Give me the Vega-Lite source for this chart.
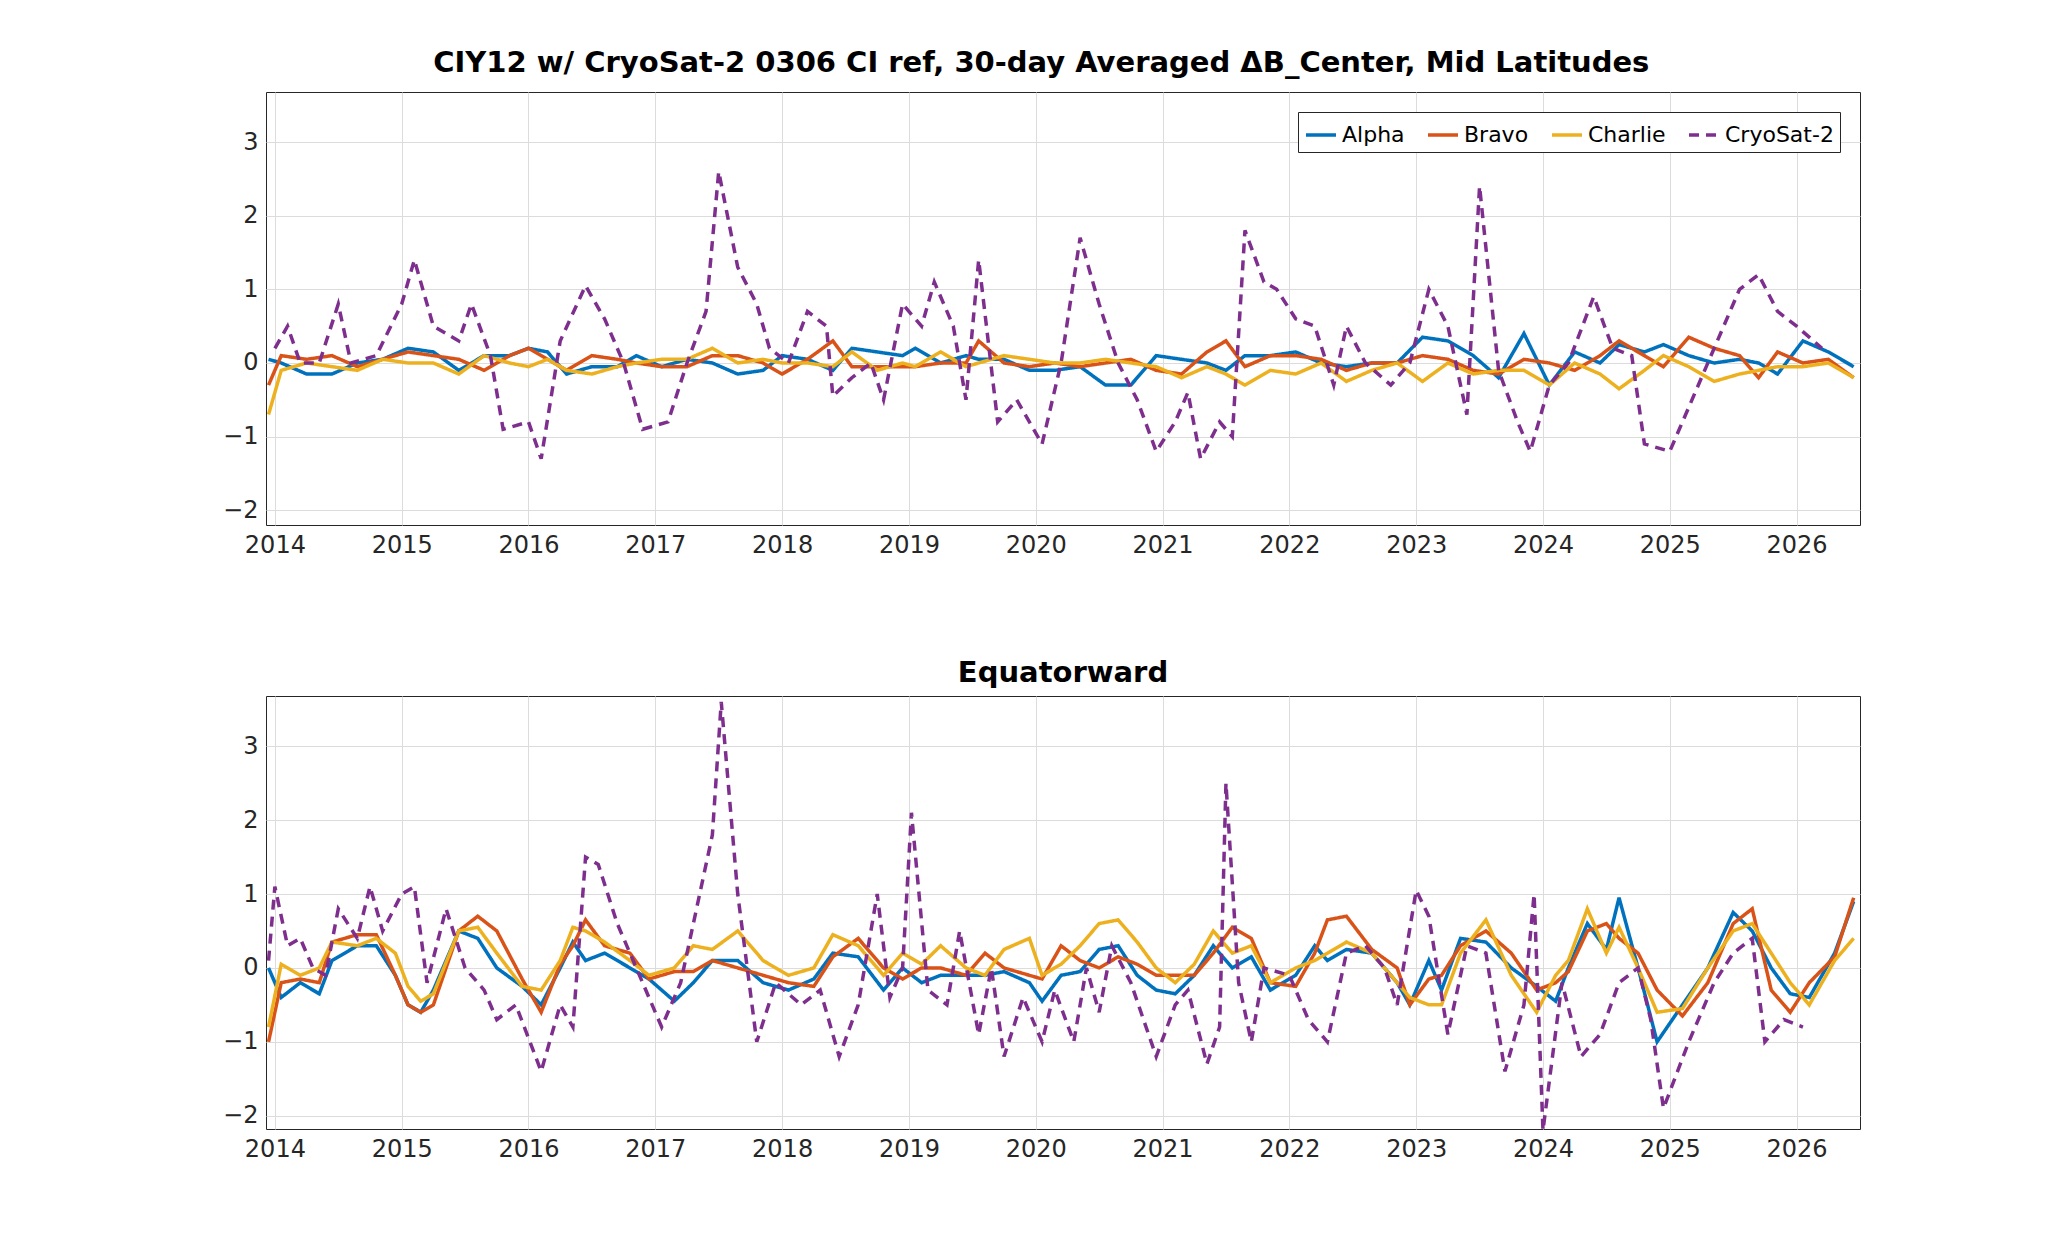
{
  "$schema": "https://vega.github.io/schema/vega-lite/v6.json",
  "background": "white",
  "padding": {"left": 222, "top": 48, "right": 10, "bottom": 10},
  "title": {"text": "CIY12 w/ CryoSat-2 0306 CI ref, 30-day Averaged ΔB_Center, Mid Latitudes", "fontSize": 29, "font": "DejaVu Sans", "fontWeight": "bold", "anchor": "middle", "offset": 14},
  "config": {
    "font": "DejaVu Sans",
    "view": {"stroke": "#262626", "strokeWidth": 1},
    "axis": {"labelFontSize": 24, "labelColor": "#262626", "gridColor": "#dcdcdc", "gridOpacity": 1, "domain": false, "tickSize": 0, "labelPadding": 8, "title": null},
    "title": {"fontSize": 29, "font": "DejaVu Sans", "fontWeight": "bold", "color": "black"}
  },
  "data": {"values": [
    {"p":"M","t":2013.95,"A":0.05,"B":-0.3,"C":-0.7},
    {"p":"M","t":2014.05,"A":0.0,"B":0.1,"C":-0.1},
    {"p":"M","t":2014.25,"A":-0.15,"B":0.05,"C":0.0},
    {"p":"M","t":2014.45,"A":-0.15,"B":0.1,"C":-0.05},
    {"p":"M","t":2014.65,"A":0.0,"B":-0.05,"C":-0.1},
    {"p":"M","t":2014.85,"A":0.05,"B":0.05,"C":0.05},
    {"p":"M","t":2015.05,"A":0.2,"B":0.15,"C":0.0},
    {"p":"M","t":2015.25,"A":0.15,"B":0.1,"C":0.0},
    {"p":"M","t":2015.45,"A":-0.1,"B":0.05,"C":-0.15},
    {"p":"M","t":2015.65,"A":0.1,"B":-0.1,"C":0.1},
    {"p":"M","t":2015.85,"A":0.1,"B":0.1,"C":0.0},
    {"p":"M","t":2016.0,"A":0.2,"B":0.2,"C":-0.05},
    {"p":"M","t":2016.15,"A":0.15,"B":0.05,"C":0.05},
    {"p":"M","t":2016.3,"A":-0.15,"B":-0.1,"C":-0.1},
    {"p":"M","t":2016.5,"A":-0.05,"B":0.1,"C":-0.15},
    {"p":"M","t":2016.7,"A":-0.05,"B":0.05,"C":-0.05},
    {"p":"M","t":2016.85,"A":0.1,"B":0.0,"C":0.0},
    {"p":"M","t":2017.05,"A":-0.05,"B":-0.05,"C":0.05},
    {"p":"M","t":2017.25,"A":0.05,"B":-0.05,"C":0.05},
    {"p":"M","t":2017.45,"A":0.0,"B":0.1,"C":0.2},
    {"p":"M","t":2017.65,"A":-0.15,"B":0.1,"C":0.0},
    {"p":"M","t":2017.85,"A":-0.1,"B":0.0,"C":0.05},
    {"p":"M","t":2018.0,"A":0.1,"B":-0.15,"C":0.0},
    {"p":"M","t":2018.2,"A":0.05,"B":0.05,"C":0.0},
    {"p":"M","t":2018.4,"A":-0.1,"B":0.3,"C":-0.05},
    {"p":"M","t":2018.55,"A":0.2,"B":-0.05,"C":0.15},
    {"p":"M","t":2018.75,"A":0.15,"B":-0.05,"C":-0.1},
    {"p":"M","t":2018.95,"A":0.1,"B":-0.05,"C":0.0},
    {"p":"M","t":2019.05,"A":0.2,"B":-0.05,"C":-0.05},
    {"p":"M","t":2019.25,"A":0.0,"B":0.0,"C":0.15},
    {"p":"M","t":2019.45,"A":0.1,"B":0.0,"C":-0.05},
    {"p":"M","t":2019.55,"A":0.05,"B":0.3,"C":0.0},
    {"p":"M","t":2019.75,"A":0.05,"B":0.0,"C":0.1},
    {"p":"M","t":2019.95,"A":-0.1,"B":-0.05,"C":0.05},
    {"p":"M","t":2020.15,"A":-0.1,"B":0.0,"C":0.0},
    {"p":"M","t":2020.35,"A":-0.05,"B":-0.05,"C":0.0},
    {"p":"M","t":2020.55,"A":-0.3,"B":0.0,"C":0.05},
    {"p":"M","t":2020.75,"A":-0.3,"B":0.05,"C":0.0},
    {"p":"M","t":2020.95,"A":0.1,"B":-0.1,"C":-0.05},
    {"p":"M","t":2021.15,"A":0.05,"B":-0.15,"C":-0.2},
    {"p":"M","t":2021.35,"A":0.0,"B":0.15,"C":-0.05},
    {"p":"M","t":2021.5,"A":-0.1,"B":0.3,"C":-0.15},
    {"p":"M","t":2021.65,"A":0.1,"B":-0.05,"C":-0.3},
    {"p":"M","t":2021.85,"A":0.1,"B":0.1,"C":-0.1},
    {"p":"M","t":2022.05,"A":0.15,"B":0.1,"C":-0.15},
    {"p":"M","t":2022.25,"A":0.0,"B":0.05,"C":0.0},
    {"p":"M","t":2022.45,"A":-0.05,"B":-0.1,"C":-0.25},
    {"p":"M","t":2022.65,"A":0.0,"B":0.0,"C":-0.1},
    {"p":"M","t":2022.85,"A":0.0,"B":0.0,"C":0.0},
    {"p":"M","t":2023.05,"A":0.35,"B":0.1,"C":-0.25},
    {"p":"M","t":2023.25,"A":0.3,"B":0.05,"C":0.0},
    {"p":"M","t":2023.45,"A":0.1,"B":-0.1,"C":-0.15},
    {"p":"M","t":2023.65,"A":-0.2,"B":-0.15,"C":-0.1},
    {"p":"M","t":2023.85,"A":0.4,"B":0.05,"C":-0.1},
    {"p":"M","t":2024.05,"A":-0.3,"B":0.0,"C":-0.3},
    {"p":"M","t":2024.25,"A":0.15,"B":-0.1,"C":0.0},
    {"p":"M","t":2024.45,"A":0.0,"B":0.1,"C":-0.15},
    {"p":"M","t":2024.6,"A":0.25,"B":0.3,"C":-0.35},
    {"p":"M","t":2024.8,"A":0.15,"B":0.1,"C":-0.1},
    {"p":"M","t":2024.95,"A":0.25,"B":-0.05,"C":0.1},
    {"p":"M","t":2025.15,"A":0.1,"B":0.35,"C":-0.05},
    {"p":"M","t":2025.35,"A":0.0,"B":0.2,"C":-0.25},
    {"p":"M","t":2025.55,"A":0.05,"B":0.1,"C":-0.15},
    {"p":"M","t":2025.7,"A":0.0,"B":-0.2,"C":-0.1},
    {"p":"M","t":2025.85,"A":-0.15,"B":0.15,"C":-0.05},
    {"p":"M","t":2026.05,"A":0.3,"B":0.0,"C":-0.05},
    {"p":"M","t":2026.25,"A":0.15,"B":0.05,"C":0.0},
    {"p":"M","t":2026.45,"A":-0.05,"B":-0.2,"C":-0.2},
    {"p":"M","t":2014.0,"D":0.2},{"p":"M","t":2014.1,"D":0.5},{"p":"M","t":2014.2,"D":0.0},{"p":"M","t":2014.35,"D":0.0},
    {"p":"M","t":2014.5,"D":0.8},{"p":"M","t":2014.6,"D":0.0},{"p":"M","t":2014.8,"D":0.1},{"p":"M","t":2015.0,"D":0.8},
    {"p":"M","t":2015.1,"D":1.4},{"p":"M","t":2015.25,"D":0.5},{"p":"M","t":2015.45,"D":0.3},{"p":"M","t":2015.55,"D":0.8},
    {"p":"M","t":2015.7,"D":0.1},{"p":"M","t":2015.8,"D":-0.9},{"p":"M","t":2016.0,"D":-0.8},{"p":"M","t":2016.1,"D":-1.3},
    {"p":"M","t":2016.25,"D":0.3},{"p":"M","t":2016.45,"D":1.05},{"p":"M","t":2016.6,"D":0.6},{"p":"M","t":2016.75,"D":0.0},
    {"p":"M","t":2016.9,"D":-0.9},{"p":"M","t":2017.1,"D":-0.8},{"p":"M","t":2017.25,"D":0.0},{"p":"M","t":2017.4,"D":0.7},
    {"p":"M","t":2017.5,"D":2.6},{"p":"M","t":2017.65,"D":1.3},{"p":"M","t":2017.8,"D":0.8},{"p":"M","t":2017.9,"D":0.2},
    {"p":"M","t":2018.05,"D":0.0},{"p":"M","t":2018.2,"D":0.7},{"p":"M","t":2018.35,"D":0.5},{"p":"M","t":2018.4,"D":-0.45},
    {"p":"M","t":2018.55,"D":-0.2},{"p":"M","t":2018.7,"D":0.0},{"p":"M","t":2018.8,"D":-0.5},{"p":"M","t":2018.95,"D":0.8},
    {"p":"M","t":2019.1,"D":0.5},{"p":"M","t":2019.2,"D":1.1},{"p":"M","t":2019.35,"D":0.5},{"p":"M","t":2019.45,"D":-0.5},
    {"p":"M","t":2019.55,"D":1.4},{"p":"M","t":2019.7,"D":-0.8},{"p":"M","t":2019.85,"D":-0.5},{"p":"M","t":2019.95,"D":-0.8},
    {"p":"M","t":2020.05,"D":-1.1},{"p":"M","t":2020.2,"D":0.0},{"p":"M","t":2020.35,"D":1.7},{"p":"M","t":2020.5,"D":0.8},
    {"p":"M","t":2020.65,"D":0.0},{"p":"M","t":2020.8,"D":-0.5},{"p":"M","t":2020.95,"D":-1.2},{"p":"M","t":2021.1,"D":-0.8},
    {"p":"M","t":2021.2,"D":-0.4},{"p":"M","t":2021.3,"D":-1.3},{"p":"M","t":2021.45,"D":-0.8},{"p":"M","t":2021.55,"D":-1.0},
    {"p":"M","t":2021.65,"D":1.8},{"p":"M","t":2021.8,"D":1.1},{"p":"M","t":2021.9,"D":1.0},{"p":"M","t":2022.05,"D":0.6},
    {"p":"M","t":2022.2,"D":0.5},{"p":"M","t":2022.35,"D":-0.3},{"p":"M","t":2022.45,"D":0.5},{"p":"M","t":2022.6,"D":0.0},
    {"p":"M","t":2022.8,"D":-0.3},{"p":"M","t":2022.95,"D":0.0},{"p":"M","t":2023.1,"D":1.0},{"p":"M","t":2023.25,"D":0.5},
    {"p":"M","t":2023.4,"D":-0.7},{"p":"M","t":2023.5,"D":2.4},{"p":"M","t":2023.65,"D":-0.1},{"p":"M","t":2023.8,"D":-0.8},
    {"p":"M","t":2023.9,"D":-1.2},{"p":"M","t":2024.05,"D":-0.3},{"p":"M","t":2024.2,"D":0.0},{"p":"M","t":2024.4,"D":0.9},
    {"p":"M","t":2024.55,"D":0.2},{"p":"M","t":2024.7,"D":0.1},{"p":"M","t":2024.8,"D":-1.1},{"p":"M","t":2025.0,"D":-1.2},
    {"p":"M","t":2025.15,"D":-0.6},{"p":"M","t":2025.35,"D":0.2},{"p":"M","t":2025.55,"D":1.0},{"p":"M","t":2025.7,"D":1.2},
    {"p":"M","t":2025.85,"D":0.7},{"p":"M","t":2026.0,"D":0.5},{"p":"M","t":2026.2,"D":0.2},
    {"p":"E","t":2013.95,"A":0.0,"B":-1.0,"C":-0.8},
    {"p":"E","t":2014.05,"A":-0.4,"B":-0.2,"C":0.05},
    {"p":"E","t":2014.2,"A":-0.2,"B":-0.15,"C":-0.1},
    {"p":"E","t":2014.35,"A":-0.35,"B":-0.2,"C":0.0},
    {"p":"E","t":2014.45,"A":0.1,"B":0.35,"C":0.35},
    {"p":"E","t":2014.65,"A":0.3,"B":0.45,"C":0.3},
    {"p":"E","t":2014.8,"A":0.3,"B":0.45,"C":0.4},
    {"p":"E","t":2014.95,"A":-0.1,"B":-0.1,"C":0.2},
    {"p":"E","t":2015.05,"A":-0.5,"B":-0.5,"C":-0.25},
    {"p":"E","t":2015.15,"A":-0.6,"B":-0.6,"C":-0.45},
    {"p":"E","t":2015.25,"A":-0.3,"B":-0.5,"C":-0.35},
    {"p":"E","t":2015.45,"A":0.5,"B":0.5,"C":0.5},
    {"p":"E","t":2015.6,"A":0.4,"B":0.7,"C":0.55},
    {"p":"E","t":2015.75,"A":0.0,"B":0.5,"C":0.2},
    {"p":"E","t":2015.95,"A":-0.25,"B":-0.15,"C":-0.25},
    {"p":"E","t":2016.1,"A":-0.5,"B":-0.6,"C":-0.3},
    {"p":"E","t":2016.25,"A":0.0,"B":0.05,"C":0.1},
    {"p":"E","t":2016.35,"A":0.35,"B":0.3,"C":0.55},
    {"p":"E","t":2016.45,"A":0.1,"B":0.65,"C":0.5},
    {"p":"E","t":2016.6,"A":0.2,"B":0.3,"C":0.35},
    {"p":"E","t":2016.8,"A":0.0,"B":0.2,"C":0.1},
    {"p":"E","t":2016.95,"A":-0.15,"B":-0.15,"C":-0.1},
    {"p":"E","t":2017.15,"A":-0.45,"B":-0.05,"C":0.0},
    {"p":"E","t":2017.3,"A":-0.2,"B":-0.05,"C":0.3},
    {"p":"E","t":2017.45,"A":0.1,"B":0.1,"C":0.25},
    {"p":"E","t":2017.65,"A":0.1,"B":0.0,"C":0.5},
    {"p":"E","t":2017.85,"A":-0.2,"B":-0.1,"C":0.1},
    {"p":"E","t":2018.05,"A":-0.3,"B":-0.2,"C":-0.1},
    {"p":"E","t":2018.25,"A":-0.15,"B":-0.25,"C":0.0},
    {"p":"E","t":2018.4,"A":0.2,"B":0.15,"C":0.45},
    {"p":"E","t":2018.6,"A":0.15,"B":0.4,"C":0.3},
    {"p":"E","t":2018.8,"A":-0.3,"B":0.0,"C":-0.1},
    {"p":"E","t":2018.95,"A":0.0,"B":-0.15,"C":0.2},
    {"p":"E","t":2019.1,"A":-0.2,"B":0.0,"C":0.05},
    {"p":"E","t":2019.25,"A":-0.1,"B":0.0,"C":0.3},
    {"p":"E","t":2019.45,"A":-0.1,"B":-0.1,"C":0.0},
    {"p":"E","t":2019.6,"A":-0.1,"B":0.2,"C":-0.1},
    {"p":"E","t":2019.75,"A":-0.05,"B":0.0,"C":0.25},
    {"p":"E","t":2019.95,"A":-0.2,"B":-0.1,"C":0.4},
    {"p":"E","t":2020.05,"A":-0.45,"B":-0.15,"C":-0.1},
    {"p":"E","t":2020.2,"A":-0.1,"B":0.3,"C":0.05},
    {"p":"E","t":2020.35,"A":-0.05,"B":0.1,"C":0.3},
    {"p":"E","t":2020.5,"A":0.25,"B":0.0,"C":0.6},
    {"p":"E","t":2020.65,"A":0.3,"B":0.15,"C":0.65},
    {"p":"E","t":2020.8,"A":-0.1,"B":0.05,"C":0.35},
    {"p":"E","t":2020.95,"A":-0.3,"B":-0.1,"C":0.0},
    {"p":"E","t":2021.1,"A":-0.35,"B":-0.1,"C":-0.2},
    {"p":"E","t":2021.25,"A":-0.1,"B":-0.1,"C":0.05},
    {"p":"E","t":2021.4,"A":0.3,"B":0.2,"C":0.5},
    {"p":"E","t":2021.55,"A":0.0,"B":0.55,"C":0.2},
    {"p":"E","t":2021.7,"A":0.15,"B":0.4,"C":0.3},
    {"p":"E","t":2021.85,"A":-0.3,"B":-0.2,"C":-0.2},
    {"p":"E","t":2022.05,"A":-0.1,"B":-0.25,"C":0.0},
    {"p":"E","t":2022.2,"A":0.3,"B":0.2,"C":0.1},
    {"p":"E","t":2022.3,"A":0.1,"B":0.65,"C":0.2},
    {"p":"E","t":2022.45,"A":0.25,"B":0.7,"C":0.35},
    {"p":"E","t":2022.65,"A":0.2,"B":0.25,"C":0.2},
    {"p":"E","t":2022.85,"A":-0.2,"B":0.0,"C":-0.2},
    {"p":"E","t":2022.95,"A":-0.5,"B":-0.5,"C":-0.4},
    {"p":"E","t":2023.1,"A":0.1,"B":-0.15,"C":-0.5},
    {"p":"E","t":2023.2,"A":-0.3,"B":-0.1,"C":-0.5},
    {"p":"E","t":2023.35,"A":0.4,"B":0.3,"C":0.2},
    {"p":"E","t":2023.55,"A":0.35,"B":0.5,"C":0.65},
    {"p":"E","t":2023.75,"A":0.0,"B":0.2,"C":-0.1},
    {"p":"E","t":2023.95,"A":-0.25,"B":-0.3,"C":-0.6},
    {"p":"E","t":2024.1,"A":-0.45,"B":-0.2,"C":-0.1},
    {"p":"E","t":2024.2,"A":0.0,"B":-0.05,"C":0.1},
    {"p":"E","t":2024.35,"A":0.6,"B":0.5,"C":0.8},
    {"p":"E","t":2024.5,"A":0.25,"B":0.6,"C":0.2},
    {"p":"E","t":2024.6,"A":0.95,"B":0.4,"C":0.55},
    {"p":"E","t":2024.75,"A":0.0,"B":0.2,"C":0.0},
    {"p":"E","t":2024.9,"A":-1.0,"B":-0.3,"C":-0.6},
    {"p":"E","t":2025.1,"A":-0.5,"B":-0.65,"C":-0.55},
    {"p":"E","t":2025.3,"A":0.0,"B":-0.2,"C":0.0},
    {"p":"E","t":2025.5,"A":0.75,"B":0.6,"C":0.5},
    {"p":"E","t":2025.65,"A":0.5,"B":0.8,"C":0.6},
    {"p":"E","t":2025.8,"A":0.0,"B":-0.3,"C":0.2},
    {"p":"E","t":2025.95,"A":-0.35,"B":-0.6,"C":-0.2},
    {"p":"E","t":2026.1,"A":-0.4,"B":-0.2,"C":-0.5},
    {"p":"E","t":2026.3,"A":0.2,"B":0.15,"C":0.1},
    {"p":"E","t":2026.45,"A":0.9,"B":0.95,"C":0.4},
    {"p":"E","t":2013.95,"D":0.1},{"p":"E","t":2014.0,"D":1.1},{"p":"E","t":2014.1,"D":0.3},{"p":"E","t":2014.2,"D":0.4},
    {"p":"E","t":2014.3,"D":0.0},{"p":"E","t":2014.4,"D":-0.1},{"p":"E","t":2014.5,"D":0.8},{"p":"E","t":2014.65,"D":0.4},
    {"p":"E","t":2014.75,"D":1.1},{"p":"E","t":2014.85,"D":0.5},{"p":"E","t":2015.0,"D":1.0},{"p":"E","t":2015.1,"D":1.1},
    {"p":"E","t":2015.2,"D":-0.2},{"p":"E","t":2015.35,"D":0.8},{"p":"E","t":2015.5,"D":0.0},{"p":"E","t":2015.65,"D":-0.3},
    {"p":"E","t":2015.75,"D":-0.7},{"p":"E","t":2015.9,"D":-0.5},{"p":"E","t":2016.1,"D":-1.4},{"p":"E","t":2016.25,"D":-0.5},
    {"p":"E","t":2016.35,"D":-0.8},{"p":"E","t":2016.45,"D":1.5},{"p":"E","t":2016.55,"D":1.4},{"p":"E","t":2016.7,"D":0.6},
    {"p":"E","t":2016.85,"D":0.0},{"p":"E","t":2017.05,"D":-0.8},{"p":"E","t":2017.2,"D":-0.2},{"p":"E","t":2017.35,"D":1.0},
    {"p":"E","t":2017.45,"D":1.8},{"p":"E","t":2017.52,"D":3.6},{"p":"E","t":2017.65,"D":1.0},{"p":"E","t":2017.8,"D":-1.0},
    {"p":"E","t":2017.95,"D":-0.2},{"p":"E","t":2018.15,"D":-0.5},{"p":"E","t":2018.3,"D":-0.3},{"p":"E","t":2018.45,"D":-1.2},
    {"p":"E","t":2018.6,"D":-0.5},{"p":"E","t":2018.75,"D":1.0},{"p":"E","t":2018.85,"D":-0.4},{"p":"E","t":2018.95,"D":0.0},
    {"p":"E","t":2019.02,"D":2.1},{"p":"E","t":2019.15,"D":-0.3},{"p":"E","t":2019.3,"D":-0.5},{"p":"E","t":2019.4,"D":0.5},
    {"p":"E","t":2019.55,"D":-0.9},{"p":"E","t":2019.65,"D":0.0},{"p":"E","t":2019.75,"D":-1.2},{"p":"E","t":2019.9,"D":-0.4},
    {"p":"E","t":2020.05,"D":-1.0},{"p":"E","t":2020.15,"D":-0.3},{"p":"E","t":2020.3,"D":-1.0},{"p":"E","t":2020.4,"D":0.0},
    {"p":"E","t":2020.5,"D":-0.6},{"p":"E","t":2020.6,"D":0.3},{"p":"E","t":2020.75,"D":-0.2},{"p":"E","t":2020.95,"D":-1.2},
    {"p":"E","t":2021.1,"D":-0.5},{"p":"E","t":2021.2,"D":-0.3},{"p":"E","t":2021.35,"D":-1.3},{"p":"E","t":2021.45,"D":-0.8},
    {"p":"E","t":2021.5,"D":2.5},{"p":"E","t":2021.6,"D":-0.2},{"p":"E","t":2021.7,"D":-1.0},{"p":"E","t":2021.8,"D":0.0},
    {"p":"E","t":2022.0,"D":-0.1},{"p":"E","t":2022.15,"D":-0.7},{"p":"E","t":2022.3,"D":-1.0},{"p":"E","t":2022.45,"D":0.2},
    {"p":"E","t":2022.6,"D":0.3},{"p":"E","t":2022.75,"D":0.0},{"p":"E","t":2022.85,"D":-0.5},{"p":"E","t":2023.0,"D":1.05},
    {"p":"E","t":2023.1,"D":0.7},{"p":"E","t":2023.25,"D":-0.9},{"p":"E","t":2023.4,"D":0.3},{"p":"E","t":2023.55,"D":0.2},
    {"p":"E","t":2023.7,"D":-1.4},{"p":"E","t":2023.85,"D":-0.5},{"p":"E","t":2023.93,"D":1.0},{"p":"E","t":2024.0,"D":-2.2},
    {"p":"E","t":2024.15,"D":-0.2},{"p":"E","t":2024.3,"D":-1.2},{"p":"E","t":2024.45,"D":-0.9},{"p":"E","t":2024.6,"D":-0.2},
    {"p":"E","t":2024.75,"D":0.0},{"p":"E","t":2024.85,"D":-0.7},{"p":"E","t":2024.95,"D":-1.9},{"p":"E","t":2025.15,"D":-1.0},
    {"p":"E","t":2025.35,"D":-0.2},{"p":"E","t":2025.5,"D":0.2},{"p":"E","t":2025.65,"D":0.4},{"p":"E","t":2025.75,"D":-1.0},
    {"p":"E","t":2025.9,"D":-0.7},{"p":"E","t":2026.05,"D":-0.8}
  ]},
  "transform": [
    {"fold": ["A", "B", "C", "D"], "as": ["k", "value"]},
    {"filter": "isValid(datum.value)"},
    {"lookup": "k", "from": {"data": {"values": [
      {"k": "A", "series": "Alpha"}, {"k": "B", "series": "Bravo"},
      {"k": "C", "series": "Charlie"}, {"k": "D", "series": "CryoSat-2"}]}, "key": "k", "fields": ["series"]}}
  ],
  "resolve": {"legend": {"color": "independent", "strokeDash": "independent"}},
  "spacing": 100,
  "vconcat": [
    {
      "width": 1594, "height": 433,
      "transform": [{"filter": "datum.p == 'M'"}],
      "mark": {"type": "line", "strokeWidth": 3.5, "clip": true},
      "encoding": {
        "x": {"field": "t", "type": "quantitative", "scale": {"domain": [2013.93, 2026.5], "nice": false, "zero": false}, "axis": {"values": [2014,2015,2016,2017,2018,2019,2020,2021,2022,2023,2024,2025,2026], "format": "d"}},
        "y": {"field": "value", "type": "quantitative", "scale": {"domain": [-2.2, 3.68], "nice": false}, "axis": {"values": [-2,-1,0,1,2,3]}},
        "color": {"field": "series", "type": "nominal", "scale": {"domain": ["Alpha","Bravo","Charlie","CryoSat-2"], "range": ["#0072BD","#D95319","#EDB120","#7E2F8E"]},
          "legend": {"title": null, "orient": "top-right", "direction": "horizontal", "offset": 20, "labelFontSize": 22, "labelColor": "black", "symbolType": "stroke", "symbolSize": 900, "symbolStrokeWidth": 3.5, "strokeColor": "#262626", "fillColor": "white", "padding": 6, "columnPadding": 16}},
        "strokeDash": {"field": "series", "type": "nominal", "scale": {"domain": ["Alpha","Bravo","Charlie","CryoSat-2"], "range": [[1,0],[1,0],[1,0],[10,7]]},
          "legend": {"title": null, "orient": "top-right", "direction": "horizontal", "offset": 20, "labelFontSize": 22, "labelColor": "black", "symbolType": "stroke", "symbolSize": 900, "symbolStrokeWidth": 3.5, "strokeColor": "#262626", "fillColor": "white", "padding": 6, "columnPadding": 16}},
        "order": {"field": "t", "type": "quantitative"}
      }
    },
    {
      "width": 1594, "height": 433,
      "title": {"text": "Equatorward", "offset": 8},
      "transform": [{"filter": "datum.p == 'E'"}],
      "mark": {"type": "line", "strokeWidth": 3.5, "clip": true},
      "encoding": {
        "x": {"field": "t", "type": "quantitative", "scale": {"domain": [2013.93, 2026.5], "nice": false, "zero": false}, "axis": {"values": [2014,2015,2016,2017,2018,2019,2020,2021,2022,2023,2024,2025,2026], "format": "d"}},
        "y": {"field": "value", "type": "quantitative", "scale": {"domain": [-2.18, 3.68], "nice": false}, "axis": {"values": [-2,-1,0,1,2,3]}},
        "color": {"field": "series", "type": "nominal", "scale": {"domain": ["Alpha","Bravo","Charlie","CryoSat-2"], "range": ["#0072BD","#D95319","#EDB120","#7E2F8E"]}, "legend": null},
        "strokeDash": {"field": "series", "type": "nominal", "scale": {"domain": ["Alpha","Bravo","Charlie","CryoSat-2"], "range": [[1,0],[1,0],[1,0],[10,7]]}, "legend": null},
        "order": {"field": "t", "type": "quantitative"}
      }
    }
  ]
}
